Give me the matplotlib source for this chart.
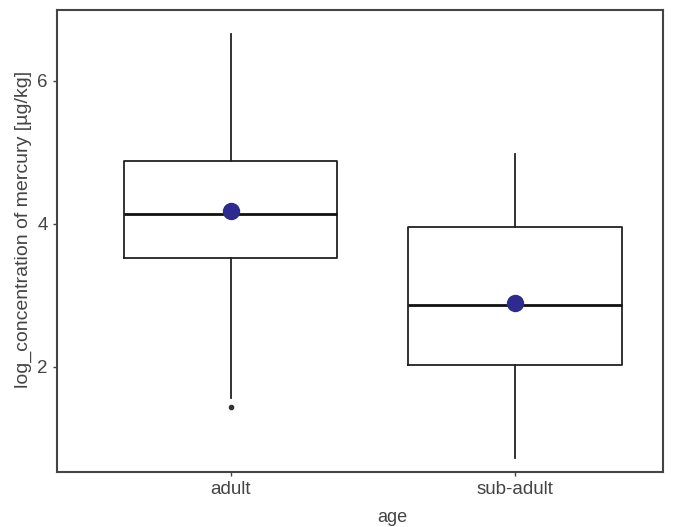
import matplotlib
matplotlib.use("Agg")
import matplotlib.pyplot as plt

plt.rcParams["font.family"] = ["Liberation Sans", "DejaVu Sans"]

groups = ["adult", "sub-adult"]
q1 = [3.52, 2.02]
median = [4.14, 2.87]
q3 = [4.88, 3.96]
whisker_low = [1.57, 0.73]
whisker_high = [6.66, 4.97]
means = [4.18, 2.89]
outliers = [[1.44], []]

stats = []
for i, g in enumerate(groups):
    stats.append(dict(label=g, q1=q1[i], med=median[i], q3=q3[i],
                      whislo=whisker_low[i], whishi=whisker_high[i],
                      fliers=outliers[i]))

fig = plt.figure(figsize=(6.77, 5.27), dpi=100)
ax = fig.add_axes([57 / 677, 55 / 527, 606 / 677, 462 / 527])

pos = [1, 2]
ax.bxp(stats, positions=pos, widths=0.75, patch_artist=False,
       boxprops=dict(color="#222222", linewidth=1.3),
       medianprops=dict(color="#111111", linewidth=2.0),
       whiskerprops=dict(color="#222222", linewidth=1.3),
       capprops=dict(linewidth=0),
       flierprops=dict(marker="o", markersize=3, markerfacecolor="#333333",
                       markeredgecolor="#333333"))
ax.plot(pos, means, "o", color="#2e2a8f", markersize=11.5, zorder=5)

ax.set_xlim(0.39, 2.52)
ax.set_ylim(0.53, 6.99)
ax.set_yticks([2, 4, 6])
ax.set_xticks(pos)
ax.set_xticklabels(groups)
ax.tick_params(colors="#444444", labelsize=13.5, length=3, width=1)
for s in ax.spines.values():
    s.set_color("#444444")
    s.set_linewidth(1.5)

ax.set_ylabel("log_concentration of mercury [µg/kg]", color="#444444", fontsize=14,
              labelpad=4, y=0.524)
ax.set_xlabel("age", color="#444444", fontsize=13, x=0.553, labelpad=8)

fig.savefig("out.png", dpi=100)
